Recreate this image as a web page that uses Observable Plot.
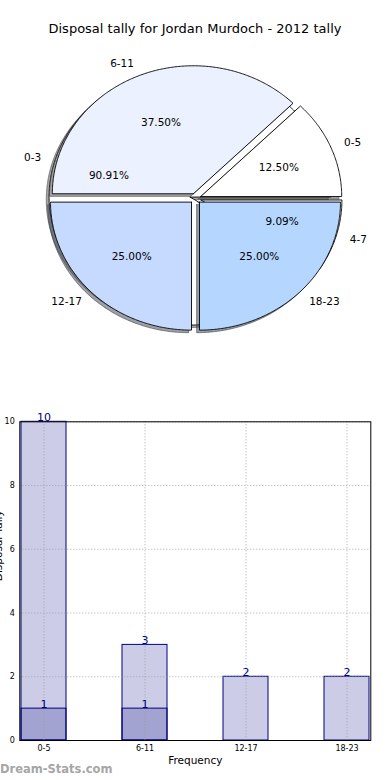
<!DOCTYPE html>
<html>
<head>
<meta charset="utf-8">
<script src="https://cdn.jsdelivr.net/npm/d3@7"></script>
<script src="https://cdn.jsdelivr.net/npm/@observablehq/plot@0.6"></script>
<style>
  html, body { margin: 0; padding: 0; background: #fff; }
  #wrap { position: relative; width: 390px; height: 780px; overflow: hidden; font-family: "DejaVu Sans", sans-serif; }
  #title { position: absolute; left: 0; top: 21px; width: 390px; text-align: center; font-size: 13px; color: #000; }
  #pie { position: absolute; left: 0; top: 0; }
  #bar { position: absolute; left: 0; top: 400px; }
  #mark { position: absolute; left: 0; top: 762px; font-size: 11.5px; font-weight: bold; color: #a6a6a6; }
</style>
</head>
<body>
<div id="wrap">
  <div id="pie"></div>
  <div id="bar"></div>
  <div id="title">Disposal tally for Jordan Murdoch - 2012 tally</div>
  <div id="mark">Dream-Stats.com</div>
</div>
<script>
// ---- Pie data ----
const pieLabelsA = ["0-5", "6-11", "12-17", "18-23"];
const pieValuesA = [1, 3, 2, 2];
const pieColorsA = ["#ffffff", "#ebf1fe", "#c6d9fe", "#b5d6fe"];
const pieLabelsB = ["0-3", "4-7"];
const pieValuesB = [10, 1];
const pieColorsB = ["#ffffff", "#ebf1fe"];

// ---- Bar data ----
const barCategories = ["0-5", "6-11", "12-17", "18-23"];
const barTotals = [10, 3, 2, 2];
const barSubset = [1, 1, 0, 0];
const yTicks = [0, 2, 4, 6, 8, 10];
const xTitle = "Frequency";
const yTitle = "Disposal Tally";

// ---- Pie geometry (matplotlib style: counter-clockwise from 3 o'clock) ----
const EXPLODE = 0.04, LABEL_R = 1.1, PCT_R = 0.6, SHADOW = 0.02;
function buildPie(labels, values, colors, key) {
  const total = d3.sum(values);
  const wedges = [], texts = [];
  let acc = 0;
  values.forEach((v, i) => {
    const a0 = 2 * Math.PI * acc / total;
    acc += v;
    const a1 = 2 * Math.PI * acc / total;
    const am = (a0 + a1) / 2;
    const cx = EXPLODE * Math.cos(am), cy = EXPLODE * Math.sin(am);
    const pts = [[cx, cy]];
    const n = Math.max(2, Math.ceil((a1 - a0) / 0.01));
    for (let k = 0; k <= n; k++) {
      const t = a0 + (a1 - a0) * k / n;
      pts.push([cx + Math.cos(t), cy + Math.sin(t)]);
    }
    pts.push([cx, cy]);
    wedges.push({id: key + i, color: colors[i], pts});
    const lx = cx + LABEL_R * Math.cos(am), ly = cy + LABEL_R * Math.sin(am);
    texts.push({x: lx, y: ly, text: labels[i], anchor: lx > 0 ? "start" : "end"});
    texts.push({x: cx + PCT_R * Math.cos(am), y: cy + PCT_R * Math.sin(am), text: (100 * v / total).toFixed(2) + "%", anchor: "middle"});
  });
  return {wedges, texts};
}
const pieB = buildPie(pieLabelsB, pieValuesB, pieColorsB, "b");
const pieA = buildPie(pieLabelsA, pieValuesA, pieColorsA, "a");

const pieMarks = [];
for (const w of [...pieB.wedges, ...pieA.wedges]) {
  const sh = d3.rgb(w.color);
  const shc = d3.rgb(sh.r * 0.3, sh.g * 0.3, sh.b * 0.3).formatHex();
  pieMarks.push(Plot.line(w.pts, {x: d => d[0] - SHADOW, y: d => d[1] - SHADOW, fill: shc, fillOpacity: 0.5, stroke: shc, strokeOpacity: 0.6, strokeWidth: 1, curve: "linear"}));
  pieMarks.push(Plot.line(w.pts, {x: d => d[0], y: d => d[1], fill: w.color, stroke: "#000", strokeWidth: 0.9, curve: "linear"}));
}
const allTexts = [...pieB.texts, ...pieA.texts];
for (const anchor of ["start", "end", "middle"]) {
  pieMarks.push(Plot.text(allTexts.filter(t => t.anchor === anchor), {x: "x", y: "y", text: "text", textAnchor: anchor, fontSize: 10.5, fill: "#000", lineAnchor: "middle"}));
}

const PW = 390, PH = 390, PCX = 195, PCY = 198, RX = 141, RY = 128;
const piePlot = Plot.plot({
  width: PW, height: PH,
  marginLeft: 0, marginRight: 0, marginTop: 0, marginBottom: 0,
  x: {domain: [-PCX / RX, (PW - PCX) / RX], axis: null},
  y: {domain: [-(PH - PCY) / RY, PCY / RY], axis: null},
  style: {fontFamily: "DejaVu Sans, sans-serif", background: "transparent", overflow: "visible"},
  marks: pieMarks
});
document.getElementById("pie").appendChild(piePlot);

// ---- Bar chart ----
const totalsData = barCategories.map((c, i) => ({cat: c, v: barTotals[i]}));
const subData = barCategories.map((c, i) => ({cat: c, v: barSubset[i]}));
const NAVY = "#000080";
const barPlot = Plot.plot({
  width: 390, height: 380,
  marginLeft: 19.3, marginRight: 19.7, marginTop: 21.3, marginBottom: 40,
  x: {type: "band", domain: barCategories, paddingInner: 0.55, paddingOuter: 0, align: 0.5},
  y: {domain: [0, 10]},
  style: {fontFamily: "DejaVu Sans, sans-serif", background: "transparent", overflow: "visible"},
  marks: [
    Plot.barY(totalsData, {x: "cat", y: "v", fill: NAVY, fillOpacity: 0.2, stroke: NAVY, strokeWidth: 1, inset: 0}),
    Plot.barY(subData.filter(d => d.v > 0), {x: "cat", y: "v", fill: NAVY, fillOpacity: 0.2, stroke: NAVY, strokeWidth: 1, inset: 0}),
    Plot.gridX({stroke: "#999", strokeOpacity: 0.8, strokeDasharray: "1,2", strokeWidth: 1}),
    Plot.gridY(yTicks, {stroke: "#999", strokeOpacity: 0.8, strokeDasharray: "1,2", strokeWidth: 1}),
    Plot.frame({stroke: "#000", strokeWidth: 1}),
    Plot.text(totalsData, {x: "cat", y: "v", text: d => String(d.v), fill: NAVY, fontSize: 11, lineAnchor: "middle", dy: -4}),
    Plot.text(subData.filter(d => d.v > 0), {x: "cat", y: "v", text: d => String(d.v), fill: NAVY, fontSize: 11, lineAnchor: "middle", dy: -4}),
    Plot.axisY(yTicks, {tickSize: 0, tickPadding: 5, fontSize: 8, label: null, tickFormat: d => String(d)}),
    Plot.axisX({tickSize: 0, tickPadding: 5, fontSize: 8, label: null}),
    Plot.text([xTitle], {text: d => d, frameAnchor: "bottom", lineAnchor: "middle", dy: 20, fontSize: 10.5, fill: "#000"}),
    Plot.text([yTitle], {text: d => d, frameAnchor: "left", rotate: -90, lineAnchor: "middle", dx: -21.5, fontSize: 10.5, fill: "#000"})
  ]
});
document.getElementById("bar").appendChild(barPlot);
</script>
</body>
</html>
